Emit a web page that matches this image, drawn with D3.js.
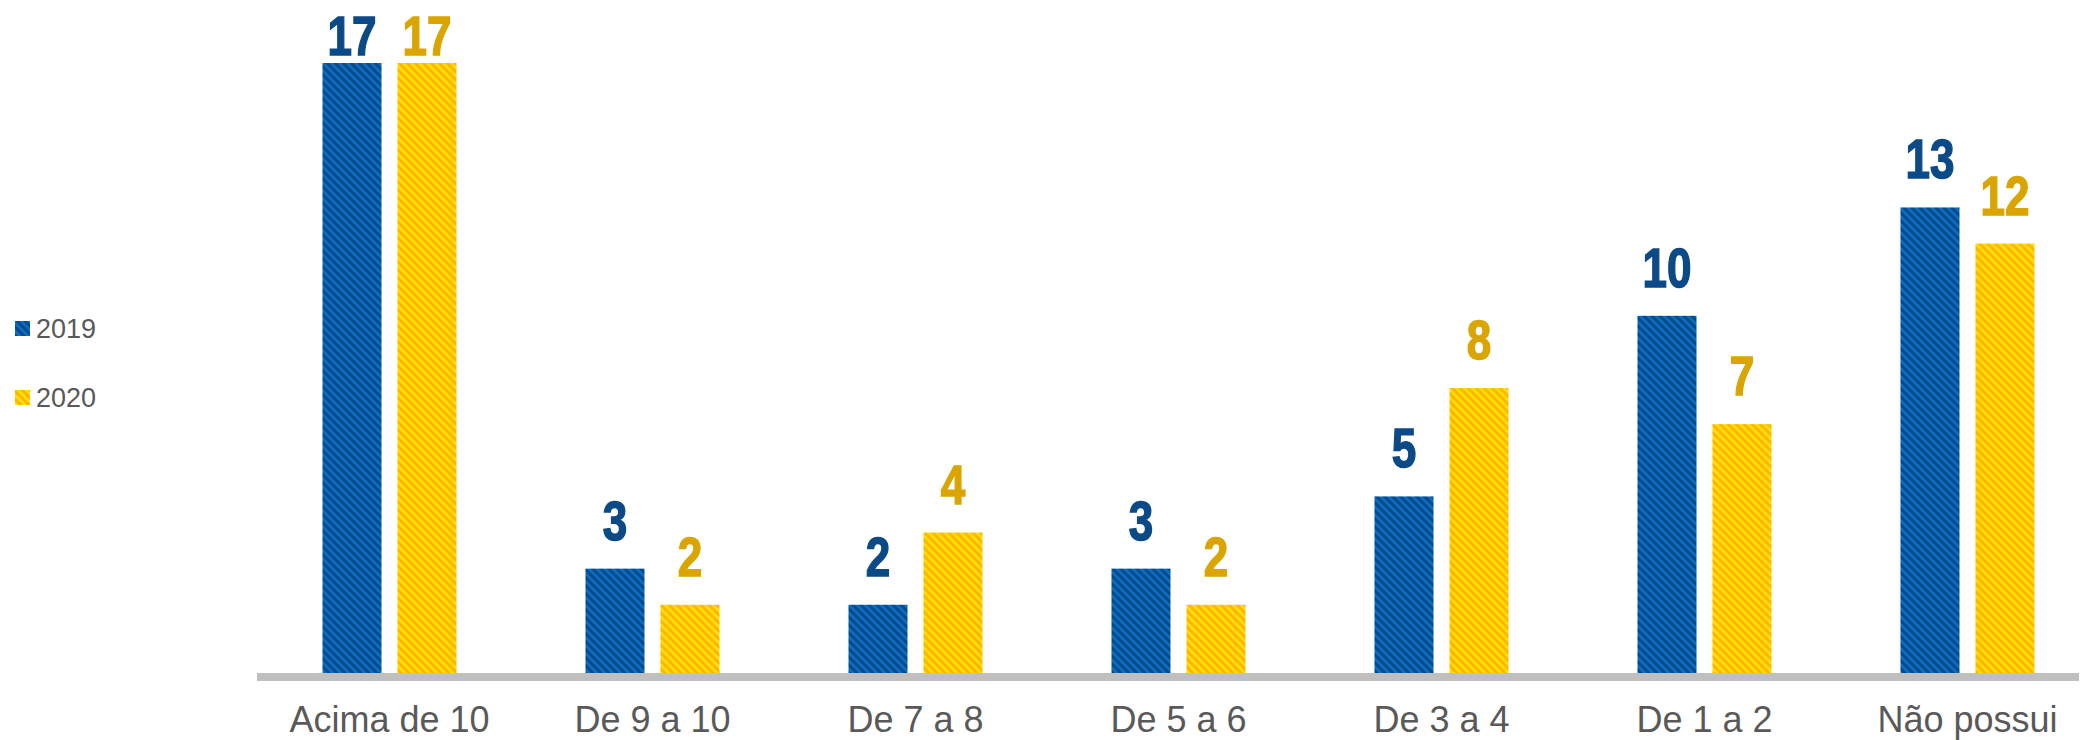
<!DOCTYPE html>
<html>
<head>
<meta charset="utf-8">
<script src="https://cdn.jsdelivr.net/npm/d3@7"></script>
<style>
  html, body { margin: 0; padding: 0; background: #ffffff; }
  svg { display: block; }
</style>
</head>
<body>
<svg id="chart" width="2082" height="740"></svg>
<script>
const categories = ["Acima de 10", "De 9 a 10", "De 7 a 8", "De 5 a 6", "De 3 a 4", "De 1 a 2", "Não possui"];
const seriesNames = ["2019", "2020"];
const values2019 = [17, 3, 2, 3, 5, 10, 13];
const values2020 = [17, 2, 4, 2, 8, 7, 12];

const seriesValues = { "2019": values2019, "2020": values2020 };
const styles = {
  "2019": { dark: "#004A8A", light: "#0B6CC2", label: "#0B4A86" },
  "2020": { dark: "#FFB400", light: "#FFE000", label: "#DAA500" }
};

const svg = d3.select("#chart");
const defs = svg.append("defs");
seriesNames.forEach(s => {
  const p = defs.append("pattern")
    .attr("id", "pat" + s)
    .attr("patternUnits", "userSpaceOnUse")
    .attr("width", 8).attr("height", 8);
  p.append("rect").attr("width", 8).attr("height", 8).attr("fill", styles[s].light);
  p.append("path")
    .attr("d", "M-2,6 L2,10 M0,0 L8,8 M6,-2 L10,2")
    .attr("stroke", styles[s].dark)
    .attr("stroke-width", 2.9);
});

const x0 = d3.scaleBand().domain(categories).range([258, 2099]).paddingInner(0).paddingOuter(0);
const x1 = d3.scaleBand().domain(seriesNames).range([-67, 67]).paddingInner(16 / 75).paddingOuter(0);
const y = d3.scaleLinear().domain([0, 17]).range([677, 63]);

const data = [];
categories.forEach((c, i) => {
  seriesNames.forEach(s => data.push({ cat: c, series: s, value: seriesValues[s][i] }));
});

const bars = svg.append("g");
bars.selectAll("rect").data(data).enter().append("rect")
  .attr("x", d => x0(d.cat) + x0.bandwidth() / 2 + x1(d.series))
  .attr("y", d => y(d.value))
  .attr("width", x1.bandwidth())
  .attr("height", d => y(0) - y(d.value))
  .attr("fill", d => "url(#pat" + d.series + ")");

// axis line
const xAxis = d3.axisBottom(x0).tickSize(0).tickPadding(0);
const axisG = svg.append("g").attr("transform", "translate(0," + y(0) + ")").call(xAxis);
axisG.select(".domain").remove();
axisG.append("line")
  .attr("x1", 257).attr("x2", 2079).attr("y1", 0).attr("y2", 0)
  .attr("stroke", "#BFBFBF").attr("stroke-width", 8);
axisG.selectAll(".tick text")
  .attr("y", 55)
  .attr("dy", 0)
  .attr("fill", "#595959")
  .style("font-family", "Arial, 'Liberation Sans', sans-serif")
  .style("font-size", "36px");

// value labels
svg.append("g").selectAll("text").data(data).enter().append("text")
  .attr("transform", d => {
    const cx = x0(d.cat) + x0.bandwidth() / 2 + x1(d.series) + x1.bandwidth() / 2;
    const by = Math.max(y(d.value) - 29, 55);
    return "translate(" + cx + "," + by + ") scale(0.8,1)";
  })
  .attr("text-anchor", "middle")
  .attr("fill", d => styles[d.series].label)
  .attr("stroke", d => styles[d.series].label)
  .attr("stroke-width", 1.5)
  .style("font-family", "'Liberation Sans', Arial, sans-serif")
  .style("font-weight", "bold")
  .style("font-size", "55px")
  .text(d => d.value);

// legend
const legend = svg.append("g");
const legendY = { "2019": 321, "2020": 390 };
seriesNames.forEach(s => {
  legend.append("rect")
    .attr("x", 15).attr("y", legendY[s])
    .attr("width", 15).attr("height", 15)
    .attr("fill", "url(#pat" + s + ")");
  legend.append("text")
    .attr("x", 36).attr("y", legendY[s] + 17)
    .attr("fill", "#595959")
    .style("font-family", "Arial, 'Liberation Sans', sans-serif")
    .style("font-size", "27px")
    .text(s);
});
</script>
</body>
</html>
